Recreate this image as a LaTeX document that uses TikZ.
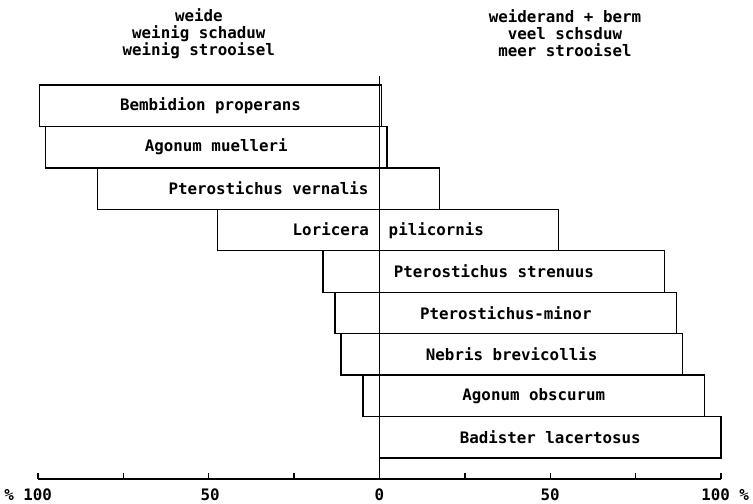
\documentclass[tikz,border=0pt]{standalone}
\usepackage{fontspec}
\setmonofont{DejaVu Sans Mono}
\tikzset{
  barbox/.style={draw,line width=0.8pt,minimum width=6.83cm,minimum height=0.829cm,
    inner sep=0pt,font=\ttfamily\bfseries\fontsize{9pt}{10pt}\selectfont},
  bartext/.style={inner sep=0pt,font=\ttfamily\bfseries\fontsize{9pt}{10pt}\selectfont},
  headtext/.style={align=center,font=\ttfamily\bfseries\fontsize{9pt}{9.7pt}\selectfont},
  scaletext/.style={font=\ttfamily\bfseries\fontsize{9pt}{10pt}\selectfont}
}

\begin{document}
\begin{tikzpicture}[x=0.0683cm,y=1cm,line width=0.8pt]
  \useasboundingbox (-7.59cm,-0.5cm) rectangle (7.47cm,9.58cm);
  % koppen
  \node[headtext] (weide) at (-52.9,8.91) {weide\\weinig schaduw\\weinig strooisel};
  \node[headtext] (weiderand) at (54.3,8.91) {weiderand + berm\\veel schsduw\\meer strooisel};
  % soorten
  \node[barbox] (bembidion) at (-49.5,7.4655) {Bembidion properans};
  \node[barbox] (agonummu) at (-47.8,6.6365) {Agonum muelleri};
  \node[barbox] (ptvernalis) at (-32.5,5.8075) {Pterostichus vernalis};
  \node[barbox] (loricera) at (2.5,4.9785) {};
  \node[bartext,anchor=base east] (loriceraL) at (-2.9,4.86) {Loricera};
  \node[bartext,anchor=base west] (loriceraR) at (2.5,4.86) {pilicornis};
  \node[barbox] (ptstrenuus) at (33.5,4.1495) {Pterostichus strenuus};
  \node[barbox] (ptminor) at (37,3.3205) {Pterostichus-minor};
  \node[barbox] (nebris) at (38.7,2.4915) {Nebris brevicollis};
  \node[barbox] (agonumob) at (45.2,1.6625) {Agonum obscurum};
  \node[barbox] (badister) at (50,0.8335) {Badister lacertosus};
  % as
  \coordinate (axl) at (-100,0);
  \coordinate (axr) at (100,0);
  \coordinate (zero) at (0,0);
  \coordinate (zerotop) at (0,8.06);
  \draw (axl) -- (axr);
  \draw (zero) -- (zerotop);
  \draw (-100,0) -- (-100,0.12) (-75,0) -- (-75,0.12) (-50,0) -- (-50,0.12)
        (-25,0) -- (-25,0.12) (25,0) -- (25,0.12) (50,0) -- (50,0.12)
        (75,0) -- (75,0.12) (100,0) -- (100,0.12);
  \node[scaletext] (lbl100l) at (-102.9,-0.32) {\% 100};
  \node[scaletext] (lbl50l) at (-49.6,-0.32) {50};
  \node[scaletext] (lbl0) at (0,-0.32) {0};
  \node[scaletext] (lbl50r) at (50,-0.32) {50};
  \node[scaletext] (lbl100r) at (101.2,-0.32) {100 \%};
\end{tikzpicture}
\end{document}
